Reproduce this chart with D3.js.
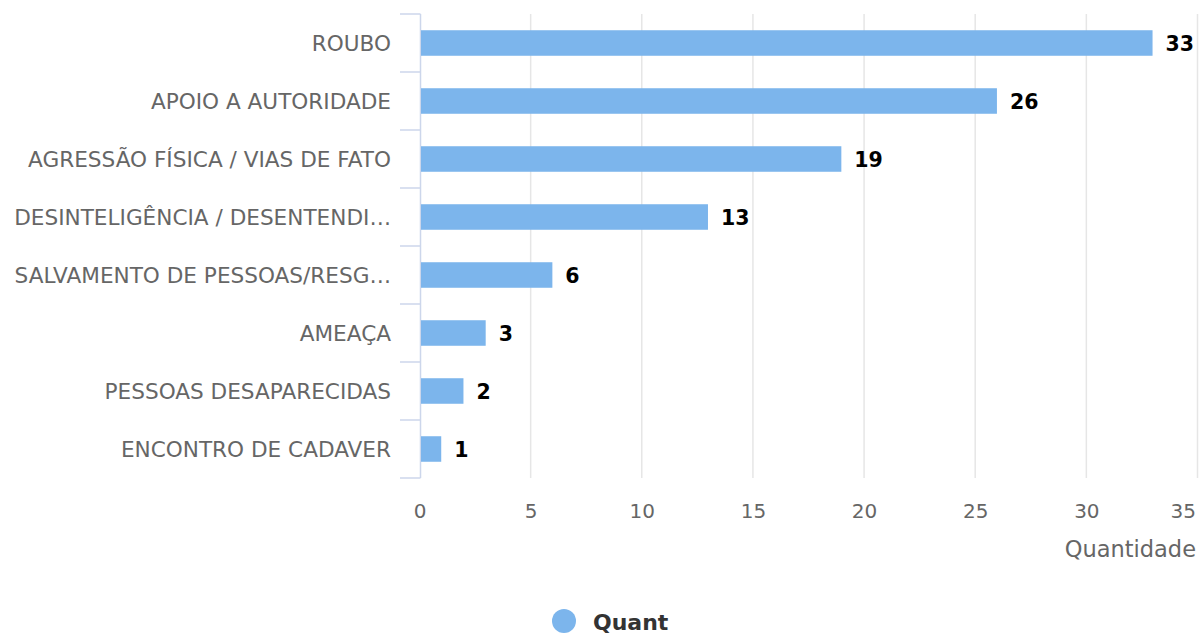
<!DOCTYPE html>
<html>
<head>
<meta charset="utf-8">
<script src="https://cdn.jsdelivr.net/npm/d3@7/dist/d3.min.js"></script>
<style>
  body { margin: 0; background: #fff; }
  svg { display: block; font-family: "DejaVu Sans", sans-serif; }
</style>
</head>
<body>
<div id="chart"></div>
<script>
// data
var categories = ["ROUBO", "APOIO A AUTORIDADE", "AGRESSÃO FÍSICA / VIAS DE FATO",
  "DESINTELIGÊNCIA / DESENTENDI…", "SALVAMENTO DE PESSOAS/RESG…", "AMEAÇA",
  "PESSOAS DESAPARECIDAS", "ENCONTRO DE CADAVER"];
var quant = [33, 26, 19, 13, 6, 3, 2, 1];
var xTicks = [0, 5, 10, 15, 20, 25, 30, 35];
var seriesName = "Quant";
var axisTitle = "Quantidade";

var width = 1199, height = 635
  , margin = { top: 14, right: 1, bottom: 157, left: 420 }
  , barColor = "#7cb5ec"
  ;

var svg = d3.select("#chart").append("svg")
  .attr("width", width)
  .attr("height", height);

var xScale = d3.scaleLinear()
  .domain([0, 35])
  .range([margin.left, width - margin.right]);

var yScale = d3.scaleBand()
  .domain(categories)
  .range([margin.top, height - margin.bottom])
  .paddingInner(0.56)
  .paddingOuter(0.28);

var plotBottom = height - margin.bottom;

// grid lines
svg.append("g").selectAll("line")
  .data(xTicks.filter(function(d) { return d > 0; }))
  .enter().append("line")
  .attr("x1", function(d) { return xScale(d) - 0.5; })
  .attr("x2", function(d) { return xScale(d) - 0.5; })
  .attr("y1", margin.top)
  .attr("y2", plotBottom)
  .attr("stroke", "#e6e6e6")
  .attr("stroke-width", 1.5);

// y axis line + category boundary ticks
svg.append("line")
  .attr("x1", xScale(0) + 0.5).attr("x2", xScale(0) + 0.5)
  .attr("y1", margin.top).attr("y2", plotBottom)
  .attr("stroke", "#ccd6eb").attr("stroke-width", 1.5);

var step = yScale.step();
var bounds = d3.range(categories.length + 1).map(function(i) { return margin.top + i * step; });
svg.append("g").selectAll("line")
  .data(bounds)
  .enter().append("line")
  .attr("x1", xScale(0) - 20).attr("x2", xScale(0) + 0.5)
  .attr("y1", function(d) { return d; })
  .attr("y2", function(d) { return d; })
  .attr("stroke", "#ccd6eb").attr("stroke-width", 1.5);

// category labels
svg.append("g").selectAll("text")
  .data(categories)
  .enter().append("text")
  .attr("x", xScale(0) - 29)
  .attr("y", function(d) { return yScale(d) + yScale.bandwidth() / 2; })
  .attr("dy", "0.36em")
  .attr("text-anchor", "end")
  .attr("fill", "#666666")
  .style("font-size", "21.6px")
  .text(function(d) { return d; });

// bars
svg.append("g").selectAll("rect")
  .data(quant)
  .enter().append("rect")
  .attr("x", xScale(0) + 1)
  .attr("y", function(d, i) { return yScale(categories[i]); })
  .attr("width", function(d) { return xScale(d) - xScale(0) - 2; })
  .attr("height", yScale.bandwidth())
  .attr("fill", barColor);

// data labels
svg.append("g").selectAll("text")
  .data(quant)
  .enter().append("text")
  .attr("x", function(d) { return xScale(d) + 12; })
  .attr("y", function(d, i) { return yScale(categories[i]) + yScale.bandwidth() / 2; })
  .attr("dy", "0.38em")
  .attr("fill", "#000")
  .style("font-size", "20.5px")
  .style("font-weight", "bold")
  .text(function(d) { return d; });

// x tick labels
var xl = svg.append("g").selectAll("text")
  .data(xTicks)
  .enter().append("text")
  .attr("x", function(d) { return xScale(d); })
  .attr("y", 518)
  .attr("text-anchor", "middle")
  .attr("fill", "#666666")
  .style("font-size", "20px")
  .text(function(d) { return d; });

// keep the last label inside the canvas
xl.each(function() {
  var b = this.getBBox();
  if (b.x + b.width > width - 3) {
    d3.select(this).attr("x", +d3.select(this).attr("x") - (b.x + b.width - (width - 3)));
  }
});

// axis title
svg.append("text")
  .attr("x", width - 3)
  .attr("y", 557)
  .attr("text-anchor", "end")
  .attr("fill", "#666666")
  .style("font-size", "22.5px")
  .text(axisTitle);

// legend
var lg = svg.append("g").attr("transform", "translate(564,621)");
lg.append("circle").attr("r", 12).attr("fill", barColor);
lg.append("text")
  .attr("x", 29)
  .attr("y", 9)
  .attr("fill", "#333333")
  .style("font-size", "22px")
  .style("font-weight", "bold")
  .text(seriesName);
</script>
</body>
</html>
